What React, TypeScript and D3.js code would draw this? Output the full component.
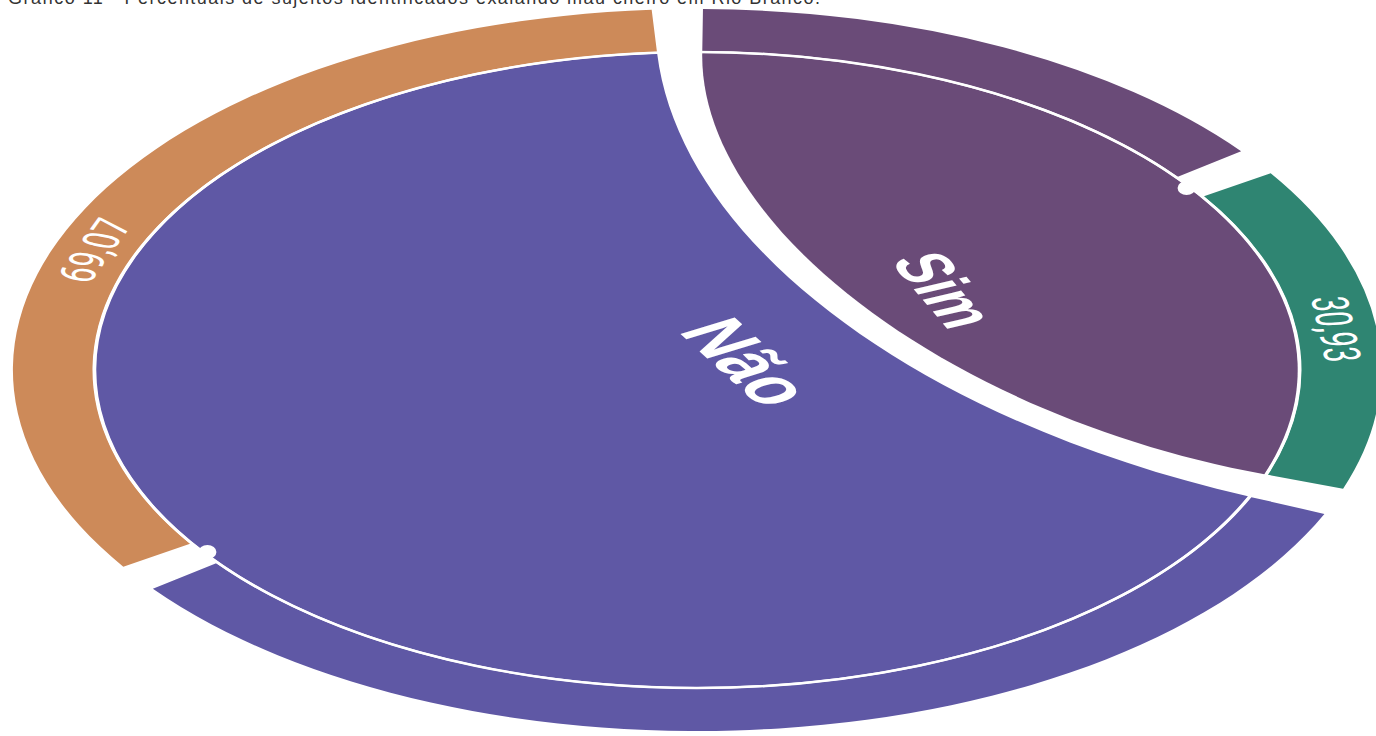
import React from "react";
import * as d3 from "d3";

// ---- data ----
const title = "Gráfico 11 - Percentuais de sujeitos identificados exalando mau cheiro em Rio Branco.";
const categories = ["Sim", "Não"];
const values = [30.93, 69.07];
const valueLabels = ["30,93", "69,07"];
const ribbonColors = ["#6A4B78", "#5F58A5"];
const valueColors = ["#2F8572", "#CD8A59"];

// ---- layout / style ----
const W = 1376;
const H = 736;
const CX = 697;
const CY = 370;
const SX = 1.895; // horizontal stretch of the original round chart
const R_IN = 318;
const R_OUT = 361;
const PAD = (4.3 * Math.PI) / 180;
const START = (0.5 * Math.PI) / 180;
const curveFactor = [0.45, 0.4];
const labelFrac = [0.5, 0.45];
const catLabelPos = [
  { x: 131, y: -80, rot: 66, size: 42 },
  { x: 27, y: -8, rot: 60, size: 48 },
];

function ribbonPath(a0: number, a1: number, r: number, k: number) {
  const p = d3.path();
  const x0 = r * Math.sin(a0), y0 = -r * Math.cos(a0);
  const x1 = r * Math.sin(a1), y1 = -r * Math.cos(a1);
  p.moveTo(x0, y0);
  p.arc(0, 0, r, a0 - Math.PI / 2, a1 - Math.PI / 2, false);
  p.bezierCurveTo(x1 * k, y1 * k, x0 * k, y0 * k, x0, y0);
  p.closePath();
  return p.toString();
}

export default function App() {
  const total = d3.sum(values);
  const angle = d3
    .scaleLinear()
    .domain([0, total])
    .range([0, 2 * Math.PI - values.length * PAD]);

  let cursor = START;
  const groups = values.map((v, i) => {
    const a0 = cursor;
    const a1 = a0 + angle(v);
    cursor = a1 + PAD;
    const half = (a1 - a0 - PAD) / 2;
    return { i, a0, a1, rest: [a0, a0 + half], val: [a1 - half, a1] };
  });

  const arc = d3.arc<any>().innerRadius(R_IN + 1).outerRadius(R_OUT);
  const deg = (r: number) => (r * 180) / Math.PI;

  return (
    <svg
      width={W}
      height={H}
      style={{ position: "absolute", left: 0, top: 0, background: "#fff" }}
    >
      <text
        x={8}
        y={4}
        fontFamily="'Liberation Sans', Arial, sans-serif"
        fontSize={18}
        fill="#333"
        textLength={812}
        lengthAdjust="spacing"
      >
        {title}
      </text>
      <g transform={`translate(${CX},${CY}) scale(${SX},1)`}>
        {groups.map((g) => (
          <g key={categories[g.i]}>
            <path
              d={ribbonPath(g.a0, g.a1, R_IN - 1, curveFactor[g.i])}
              fill={ribbonColors[g.i]}
            />
            <path
              d={arc({ startAngle: g.rest[0], endAngle: g.rest[1] }) as string}
              fill={ribbonColors[g.i]}
            />
            <path
              d={arc({ startAngle: g.val[0], endAngle: g.val[1] }) as string}
              fill={valueColors[g.i]}
            />
          </g>
        ))}
        <ellipse
          cx={0}
          cy={0}
          rx={R_IN}
          ry={R_IN}
          fill="none"
          stroke="#fff"
          strokeWidth={2.5}
          vectorEffect="non-scaling-stroke"
        />
        {groups.map((g) => {
          const a = g.val[0] + (g.val[1] - g.val[0]) * labelFrac[g.i];
          const r = (R_IN + R_OUT) / 2;
          return (
            <text
              key={"v" + g.i}
              transform={`translate(${r * Math.sin(a)},${-r * Math.cos(a)}) rotate(${deg(a)})`}
              textAnchor="middle"
              dominantBaseline="central"
              fontFamily="Roboto, 'Liberation Sans', sans-serif"
              fontSize={27}
              fill="#fff"
            >
              {valueLabels[g.i]}
            </text>
          );
        })}
        {groups.map((g) => {
          const p = catLabelPos[g.i];
          return (
            <text
              key={"c" + g.i}
              transform={`translate(${p.x},${p.y}) rotate(${p.rot})`}
              textAnchor="middle"
              dominantBaseline="central"
              fontFamily="'Liberation Sans', Arial, sans-serif"
              fontWeight="bold"
              fontSize={p.size}
              fill="#fff"
            >
              {categories[g.i]}
            </text>
          );
        })}
      </g>
      {groups.map((g) => {
        const a = (g.rest[1] + g.val[0]) / 2;
        const r = R_IN - 2;
        return (
          <ellipse
            key={"k" + g.i}
            cx={CX + SX * r * Math.sin(a)}
            cy={CY - r * Math.cos(a)}
            rx={9}
            ry={7}
            fill="#fff"
          />
        );
      })}
    </svg>
  );
}
